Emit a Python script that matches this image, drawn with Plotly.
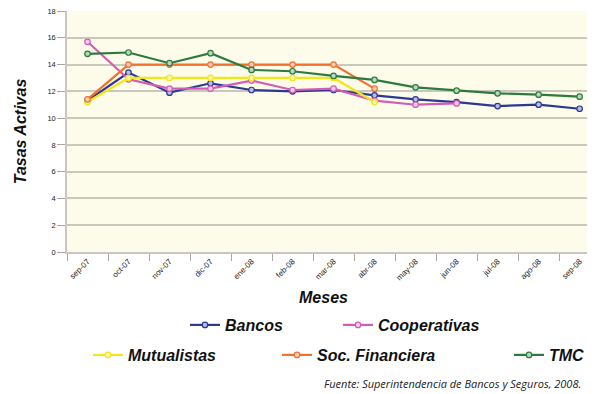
import plotly.graph_objects as go

meses = ["sep-07", "oct-07", "nov-07", "dic-07", "ene-08", "feb-08", "mar-08",
         "abr-08", "may-08", "jun-08", "jul-08", "ago-08", "sep-08"]

bancos = [11.3, 13.4, 11.9, 12.6, 12.1, 12.0, 12.1, 11.7, 11.4, 11.2, 10.9, 11.0, 10.7]
cooperativas = [15.7, 12.9, 12.2, 12.2, 12.8, 12.1, 12.2, 11.3, 11.0, 11.1]
mutualistas = [11.2, 13.0, 13.0, 13.0, 13.0, 13.0, 13.0, 11.2]
soc_financiera = [11.4, 14.0, 14.0, 14.0, 14.0, 14.0, 14.0, 12.2]
tmc = [14.8, 14.9, 14.1, 14.85, 13.6, 13.5, 13.15, 12.85, 12.3, 12.05, 11.85, 11.75, 11.6]

y_ticks = [0, 2, 4, 6, 8, 10, 12, 14, 16, 18]

# The page body adds an 8px offset; figure coordinates are page coordinates minus 8.
OFF = 8
W, H = 595, 394
FONT = "Liberation Sans"
ML, MT = 67 - OFF, 11 - OFF
PB = 252.3 - OFF
MB = H - PB
PH = H - MT - MB

series = [
    ("Bancos", bancos, "#2c3892", "#b9bde6", "legend", 225, 325),
    ("Cooperativas", cooperativas, "#d25eb4", "#f3cbe8", "legend2", 378, 325),
    ("Mutualistas", mutualistas, "#f3e61c", "#fbf6a8", "legend3", 128, 355),
    ("Soc. Financiera", soc_financiera, "#f0712f", "#fbd0b6", "legend4", 317, 355),
    ("TMC", tmc, "#2e7a3e", "#b7d8bd", "legend5", 549, 355),
]

fig = go.Figure()
for name, vals, col, fill, leg, _, _ in series:
    fig.add_trace(go.Scatter(
        x=meses[:len(vals)], y=vals, name=name, mode="lines+markers",
        line=dict(color=col, width=2.2),
        marker=dict(symbol="circle", size=5.5, color=fill, line=dict(color=col, width=1.2)),
        legend=leg,
    ))

layout_legends = {}
for name, vals, col, fill, leg, tx, ty in series:
    layout_legends[leg] = dict(
        xref="container", yref="container",
        x=(tx - OFF - 40) / W, y=1 - (ty - OFF) / H, xanchor="left", yanchor="middle",
        orientation="h", bgcolor="rgba(0,0,0,0)", borderwidth=0,
        font=dict(family=FONT, size=16, color="#111111", weight="bold", style="italic"),
        itemwidth=30, tracegroupgap=0,
    )

def px_x(page_x):
    return (page_x - OFF - ML) / (W - ML)

def px_y(page_y):
    return 1 - (page_y - OFF - MT) / PH

fig.update_layout(
    width=W, height=H,
    margin=dict(l=ML, r=0, t=MT, b=MB, autoexpand=False),
    paper_bgcolor="white", plot_bgcolor="#fdfbea",
    showlegend=True,
    **layout_legends,
    xaxis=dict(
        type="category", categoryorder="array", categoryarray=meses,
        range=[-0.5, 12.57], tickson="boundaries", ticks="outside", ticklen=7,
        tickcolor="#a8a8a0", tickwidth=1, tickangle=-45,
        tickfont=dict(family=FONT, size=8, color="#222222"),
        showgrid=False, showline=True, linecolor="#c8c8c0", linewidth=1.5,
        zeroline=False, fixedrange=True, ticklabeloverflow="allow",
    ),
    yaxis=dict(
        range=[0, 18], tickvals=y_ticks, ticks="outside", ticklen=8,
        tickcolor="#a8a8a0", tickwidth=1,
        tickfont=dict(family=FONT, size=7.5, color="#222222"),
        showgrid=True, gridcolor="#c9c8bd", gridwidth=1.5,
        showline=True, linecolor="#c8c8c0", linewidth=1.5,
        zeroline=False, fixedrange=True, ticklabeloverflow="allow",
        title=dict(text="Tasas Activas", standoff=17,
                   font=dict(family=FONT, size=16, color="#111111", weight="bold", style="italic")),
    ),
    annotations=[
        dict(text="Meses", xref="paper", yref="paper", x=px_x(323), y=px_y(298),
             showarrow=False, xanchor="center", yanchor="middle",
             font=dict(family=FONT, size=16, color="#111111", weight="bold", style="italic")),
        dict(text="Fuente: Superintendencia de Bancos y Seguros, 2008.", xref="paper", yref="paper",
             x=px_x(583), y=px_y(384),
             showarrow=False, xanchor="right", yanchor="middle",
             font=dict(family="Open Sans", size=11, color="#222222", style="italic")),
    ],
)

fig.write_html("out.html")
